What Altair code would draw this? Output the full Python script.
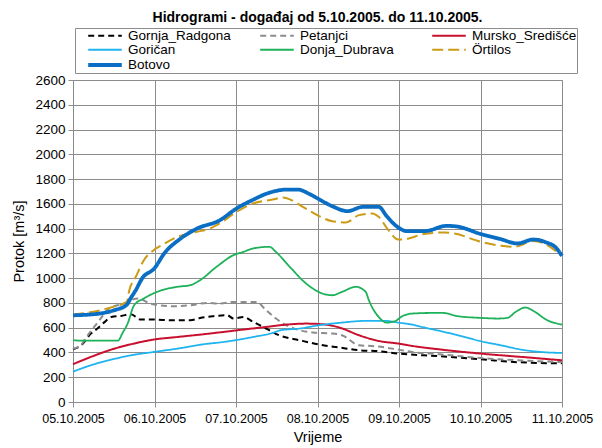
import altair as alt
import pandas as pd

# ---- data (x = days since 05.10.2005 00:00, y = discharge m3/s) ----
series_names = ["Gornja_Radgona", "Petanjci", "Mursko_Središće", "Goričan",
                "Donja_Dubrava", "Örtilos", "Botovo"]
series_colors = ["#000000", "#8c8c8c", "#c8102e", "#1fb4ef", "#1db15a", "#cc9a14", "#0a6ec4"]
series_dash = [[6, 4], [6, 4], [1, 0], [1, 0], [1, 0], [11, 5], [1, 0]]
series_width = [2, 2, 2, 1.8, 1.8, 2, 3.8]

date_labels = ["05.10.2005", "06.10.2005", "07.10.2005", "08.10.2005",
               "09.10.2005", "10.10.2005", "11.10.2005"]
y_ticks = list(range(0, 2601, 200))

gornja_t = [0, 0.10, 0.22, 0.30, 0.39, 0.47, 0.59, 0.71, 0.83, 0.95, 1.24, 1.44, 1.56, 1.72,
            1.89, 1.97, 2.09, 2.21, 2.37, 2.53, 2.78, 3.02, 3.27, 3.51, 3.75, 3.99, 4.5, 5.0, 5.5, 6.0]
gornja_v = [425, 458, 552, 593, 647, 687, 695, 709, 666, 666, 660, 660, 679, 693,
            701, 674, 687, 647, 593, 539, 499, 464, 440, 418, 410, 391, 370, 345, 320, 312]

petanjci_t = [0, 0.10, 0.14, 0.30, 0.45, 0.60, 0.80, 0.95, 1.24, 1.44, 1.64, 1.80, 1.97, 2.25,
              2.37, 2.49, 2.64, 2.78, 2.94, 3.18, 3.30, 3.51, 3.71, 3.99, 4.16, 4.5, 5.0, 5.5, 6.0]
petanjci_v = [430, 460, 500, 640, 757, 790, 836, 795, 773, 781, 800, 795, 808, 808,
              741, 674, 612, 580, 561, 553, 539, 458, 450, 423, 404, 385, 355, 335, 322]

mursko_t = [0, 0.22, 0.47, 0.71, 0.99, 1.28, 1.60, 1.85, 2.09, 2.37, 2.62, 2.86, 3.10, 3.27,
            3.51, 3.75, 3.99, 4.16, 4.52, 5.0, 5.5, 6.0]
mursko_v = [305, 364, 423, 466, 504, 525, 547, 566, 585, 606, 625, 633, 625, 601,
            539, 493, 472, 453, 423, 391, 364, 337]

gorican_t = [0, 0.22, 0.47, 0.71, 0.99, 1.28, 1.60, 1.85, 2.09, 2.21, 2.45, 2.55, 2.78, 3.02,
             3.27, 3.59, 3.83, 3.99, 4.16, 4.28, 4.52, 4.77, 5.0, 5.25, 5.5, 5.74, 6.0]
gorican_v = [245, 297, 342, 377, 404, 431, 466, 485, 510, 525, 558, 580, 593, 620,
             639, 655, 655, 641, 625, 606, 571, 531, 491, 458, 423, 404, 396]

donja_t = [0, 0.10, 0.55, 0.61, 0.67, 0.75, 0.87, 1.03, 1.28, 1.44, 1.56, 1.76, 1.97, 2.09,
           2.21, 2.41, 2.49, 2.66, 2.86, 3.06, 3.18, 3.30, 3.47, 3.59, 3.63, 3.75, 3.85, 3.95,
           4.04, 4.16, 4.40, 4.54, 4.72, 5.01, 5.21, 5.33, 5.43, 5.55, 5.65, 5.82, 6.0]
donja_v = [500, 495, 495, 560, 633, 781, 836, 889, 930, 943, 984, 1091, 1186, 1212,
           1240, 1253, 1212, 1091, 957, 876, 862, 889, 930, 891, 822, 687, 641, 652,
           693, 714, 719, 719, 693, 679, 674, 679, 727, 763, 735, 660, 625]

ortilos_t = [0, 0.30, 0.50, 0.66, 0.69, 0.77, 0.87, 0.99, 1.09, 1.28, 1.52, 1.68, 1.80, 2.01,
             2.21, 2.45, 2.58, 2.68, 2.82, 3.02, 3.18, 3.35, 3.51, 3.67, 3.75, 3.87, 3.99,
             4.12, 4.28, 4.56, 4.68, 5.01, 5.25, 5.41, 5.65, 5.82, 5.98]
ortilos_v = [705, 735, 770, 810, 900, 1010, 1145, 1226, 1266, 1333, 1374, 1401, 1442, 1536,
             1603, 1635, 1652, 1630, 1576, 1501, 1460, 1450, 1509, 1522, 1495, 1388, 1312,
             1320, 1353, 1369, 1360, 1293, 1261, 1253, 1299, 1266, 1186]

botovo_t = [0, 0.30, 0.50, 0.66, 0.70, 0.77, 0.85, 1.0, 1.12, 1.30, 1.52, 1.80, 2.0, 2.2,
            2.4, 2.62, 2.76, 2.9, 3.0, 3.18, 3.37, 3.55, 3.75, 3.85, 3.95, 4.1, 4.32, 4.58,
            4.70, 5.01, 5.25, 5.45, 5.65, 5.82, 5.92, 6.0]
botovo_v = [700, 712, 740, 785, 830, 903, 1000, 1080, 1200, 1310, 1400, 1467, 1560, 1630,
            1688, 1715, 1715, 1680, 1644, 1581, 1541, 1575, 1576, 1500, 1430, 1380, 1380, 1422,
            1418, 1355, 1315, 1280, 1312, 1285, 1250, 1180]

all_t = [gornja_t, petanjci_t, mursko_t, gorican_t, donja_t, ortilos_t, botovo_t]
all_v = [gornja_v, petanjci_v, mursko_v, gorican_v, donja_v, ortilos_v, botovo_v]

rows = []
for name, ts, vs in zip(series_names, all_t, all_v):
    for t, v in zip(ts, vs):
        rows.append({"t": t, "v": v, "s": name})
df = pd.DataFrame(rows)

FONT = "Liberation Sans"
label_expr = "[" + ",".join("'" + d + "'" for d in date_labels) + "][round(datum.value)]"

legend = alt.Legend(
    title=None, orient="none", direction="horizontal", legendX=2, legendY=-52,
    columns=3, columnPadding=14, gridAlign="all",
    symbolType="M-3.36,0H3.36", symbolSize=100, labelFont=FONT,
    labelFontSize=13.5, labelColor="#000000", padding=0, rowPadding=-1.5,
    strokeColor="#8c8c8c", fillColor="white", symbolOffset=23, labelOffset=16,
    labelLimit=300,
)

base = alt.Chart(df).mark_line(interpolate="monotone").encode(
    x=alt.X("t:Q", scale=alt.Scale(domain=[0, 6], nice=False, zero=False),
            axis=alt.Axis(values=list(range(7)), labelExpr=label_expr, title="Vrijeme",
                          tickSize=5, labelPadding=5, titlePadding=6, labelOverlap=False,
                          labelFlush=False, labelFontSize=12.5)),
    y=alt.Y("v:Q", scale=alt.Scale(domain=[0, 2600], nice=False),
            axis=alt.Axis(values=y_ticks, format="d", title="Protok [m³/s]", tickSize=5,
                          labelPadding=3, titlePadding=8)),
    color=alt.Color("s:N", scale=alt.Scale(domain=series_names, range=series_colors), legend=legend),
    strokeDash=alt.StrokeDash("s:N", scale=alt.Scale(type="ordinal", domain=series_names, range=series_dash), legend=legend),
    strokeWidth=alt.StrokeWidth("s:N", scale=alt.Scale(type="ordinal", domain=series_names, range=series_width), legend=legend),
)

others = base.transform_filter(alt.datum.s != "Botovo")
botovo = base.transform_filter(alt.datum.s == "Botovo")

chart = alt.layer(others, botovo).properties(
    width=489, height=322,
    title=alt.TitleParams("Hidrogrami - događaj od 5.10.2005. do 11.10.2005.", font=FONT,
                          fontSize=14, fontWeight="bold", color="#000000", offset=3),
    autosize=alt.AutoSizeParams(type="none"),
    padding={"left": 65, "top": 72, "right": 32, "bottom": 46},
).configure_axis(
    labelFont=FONT, titleFont=FONT, labelFontSize=13.5, titleFontSize=14.5,
    labelColor="#000000", titleColor="#000000", titleFontWeight="normal",
    gridColor="#8c8c8c", gridWidth=1, domainColor="#8c8c8c", tickColor="#8c8c8c",
    gridOpacity=1,
).configure_legend(
    strokeColor="#8c8c8c", fillColor="white", strokeWidth=1,
).configure_view(stroke="#8c8c8c", strokeWidth=1)

chart.save("out.html", embed_options={"renderer": "svg", "actions": False})
